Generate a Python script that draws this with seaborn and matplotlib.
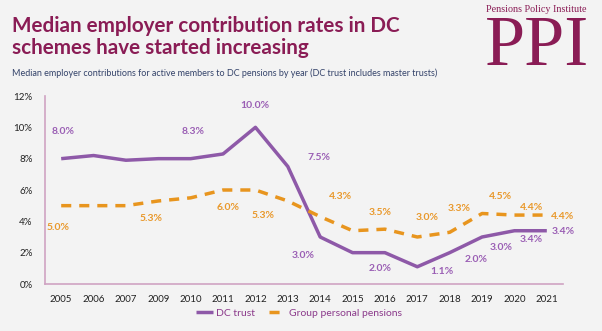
import matplotlib
matplotlib.use("Agg")
import matplotlib.pyplot as plt
import seaborn as sns
import pandas as pd

# ---- data ----
years = ["2005", "2006", "2007", "2009", "2010", "2011", "2012", "2013",
         "2014", "2015", "2016", "2017", "2018", "2019", "2020", "2021"]
dc_trust = [8.0, 8.2, 7.9, 8.0, 8.0, 8.3, 10.0, 7.5, 3.0, 2.0, 2.0, 1.1, 2.0, 3.0, 3.4, 3.4]
gpp = [5.0, 5.0, 5.0, 5.3, 5.5, 6.0, 6.0, 5.3, 4.3, 3.4, 3.5, 3.0, 3.3, 4.5, 4.4, 4.4]
series_names = ["DC trust", "Group personal pensions"]
y_ticks = [0, 2, 4, 6, 8, 10, 12]

# indices of labelled points (values read from the data)
dc_labelled = [0, 5, 6, 7, 8, 10, 11, 12, 13, 14, 15]
gpp_labelled = [0, 3, 5, 7, 8, 10, 11, 12, 13, 14, 15]

# ---- layout (label offsets in pixels) ----
dc_offsets = [(2, 27), (-30, 22), (-1, 22), (31, 9), (-17, -19), (-5, -16),
              (25, -5), (26, -7), (19, -11), (17, -9), (16, -1)]
gpp_offsets = [(-3, -22), (-7, -18), (5, -18), (-25, -15), (20, 20), (-5, 17),
               (10, 20), (9, 24), (18, 17), (17, 8), (16, -1)]

PURPLE = "#8E59A8"
PURPLE_TXT = "#9A5EB4"
ORANGE = "#E8951E"
ORANGE_TXT = "#E9982A"
MAROON = "#8A1C55"
BG = "#F3F3F3"
SPINE = "#CFA3C2"

sns.set_theme(style="white")
plt.rcParams["font.family"] = ["Lato", "DejaVu Sans"]

n = len(years)
df = pd.DataFrame({
    "pos": list(range(n)) * 2,
    "value": dc_trust + gpp,
    "series": [series_names[0]] * n + [series_names[1]] * n,
})

fig = plt.figure(figsize=(6.02, 3.31), dpi=100, facecolor=BG)
ax = fig.add_axes([45 / 602, 1 - 284 / 331, 518 / 602, 188 / 331])
ax.set_facecolor(BG)

sns.lineplot(data=df, x="pos", y="value", hue="series", style="series",
             palette={series_names[0]: PURPLE, series_names[1]: ORANGE},
             dashes={series_names[0]: (1, 0), series_names[1]: (2.9, 2.3)},
             linewidth=2.5, ax=ax, legend=True)
for line in ax.get_lines():
    line.set_solid_capstyle("butt")
    line.set_dash_capstyle("butt")

ax.set_xlim(-0.5, n - 0.5)
ax.set_ylim(0, 12)
ax.set_xticks(range(n))
ax.set_xticklabels(years)
ax.set_yticks(y_ticks)
ax.set_yticklabels([f"{t}%" for t in y_ticks])
ax.tick_params(axis="both", length=0, labelsize=7, colors="#222222")
ax.tick_params(axis="x", pad=8)
ax.tick_params(axis="y", pad=9)
ax.set_xlabel("")
ax.set_ylabel("")
for s in ["top", "right"]:
    ax.spines[s].set_visible(False)
for s in ["left", "bottom"]:
    ax.spines[s].set_color(SPINE)
    ax.spines[s].set_linewidth(1.2)

for idx, off in zip(dc_labelled, dc_offsets):
    ax.annotate(f"{dc_trust[idx]:.1f}%", xy=(idx, dc_trust[idx]), xytext=off,
                textcoords="offset pixels", ha="center", va="center",
                fontsize=7.5, fontweight="bold", color=PURPLE_TXT)
for idx, off in zip(gpp_labelled, gpp_offsets):
    ax.annotate(f"{gpp[idx]:.1f}%", xy=(idx, gpp[idx]), xytext=off,
                textcoords="offset pixels", ha="center", va="center",
                fontsize=7.5, fontweight="bold", color=ORANGE_TXT)

leg = ax.legend(loc="center", bbox_to_anchor=(299 / 602, 1 - 313 / 331),
                bbox_transform=fig.transFigure, ncol=2, frameon=False,
                fontsize=7.5, handlelength=1.6, columnspacing=1.3,
                handletextpad=0.3)
for t in leg.get_texts():
    t.set_color("#8B3A8B")

fig.text(12 / 602, 1 - 26 / 331, "Median employer contribution rates in DC",
         fontsize=14.9, fontweight="bold", color=MAROON, va="center", ha="left")
fig.text(12 / 602, 1 - 48 / 331, "schemes have started increasing",
         fontsize=14.9, fontweight="bold", color=MAROON, va="center", ha="left")
fig.text(12 / 602, 1 - 73 / 331,
         "Median employer contributions for active members to DC pensions by year (DC trust includes master trusts)",
         fontsize=6.5, color="#34436A", va="center", ha="left")

fig.text(536 / 602, 1 - 9 / 331, "Pensions Policy Institute",
         family=["Liberation Serif", "DejaVu Serif"], fontsize=7.3, color=MAROON,
         va="center", ha="center")
fig.text(537 / 602, 1 - 65 / 331, "PPI", family=["Liberation Serif", "DejaVu Serif"],
         fontsize=52, color=MAROON, va="baseline", ha="center")

fig.savefig("out.png", dpi=100, facecolor=BG)
